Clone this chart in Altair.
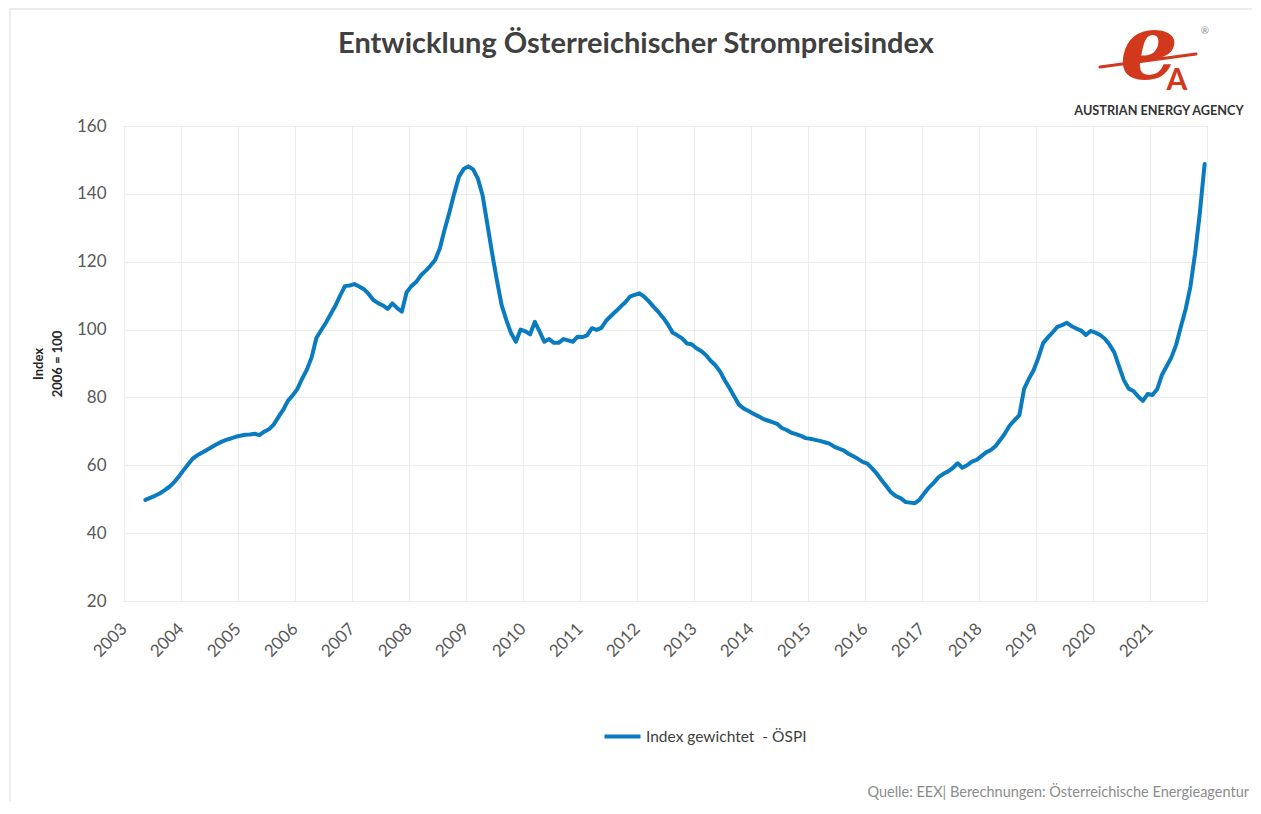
import altair as alt
import pandas as pd

# ---- data (monthly index values, 2006 = 100), from May 2003 to Dec 2021 ----
start_year = 2003
start_month = 5
v2003 = [49.8, 50.4, 51.0, 51.7, 52.6, 53.6, 54.9, 56.6]
v2004 = [58.5, 60.3, 62.0, 63.0, 63.8, 64.6, 65.4, 66.2, 66.9, 67.5, 67.9, 68.4]
v2005 = [68.7, 69.0, 69.1, 69.3, 68.9, 69.9, 70.6, 72.0, 74.2, 76.3, 79.0, 80.6]
v2006 = [82.5, 85.5, 88.2, 91.8, 97.5, 99.8, 102.0, 104.5, 107.0, 110.0, 112.8, 113.0]
v2007 = [113.4, 112.7, 111.9, 110.5, 108.7, 107.8, 107.1, 106.1, 107.7, 106.3, 105.3, 111.0]
v2008 = [112.8, 114.0, 116.0, 117.3, 118.8, 120.5, 124.0, 129.5, 134.5, 140.0, 145.0, 147.3]
v2009 = [148.1, 147.2, 144.5, 139.5, 131.0, 122.5, 114.6, 107.2, 102.8, 98.9, 96.4, 100.0]
v2010 = [99.5, 98.6, 102.3, 99.4, 96.4, 97.2, 96.1, 96.1, 97.2, 96.8, 96.4, 97.9]
v2011 = [97.8, 98.3, 100.4, 99.9, 100.5, 102.6, 104.0, 105.3, 106.7, 108.0, 109.7, 110.2]
v2012 = [110.7, 109.7, 108.3, 106.7, 105.2, 103.5, 101.5, 99.1, 98.3, 97.4, 95.9, 95.7]
v2013 = [94.5, 93.7, 92.5, 90.8, 89.5, 87.6, 85.0, 82.7, 80.2, 77.8, 76.7, 76.0]
v2014 = [75.2, 74.5, 73.7, 73.2, 72.7, 72.2, 71.0, 70.4, 69.6, 69.2, 68.7, 68.0]
v2015 = [67.8, 67.5, 67.2, 66.8, 66.4, 65.5, 64.9, 64.4, 63.4, 62.7, 61.9, 61.0]
v2016 = [60.5, 59.1, 57.5, 55.6, 53.8, 52.0, 50.9, 50.3, 49.2, 49.0, 48.8, 49.9]
v2017 = [51.8, 53.5, 54.9, 56.5, 57.5, 58.2, 59.2, 60.6, 59.3, 60.0, 61.1, 61.6]
v2018 = [62.7, 63.8, 64.5, 65.7, 67.5, 69.5, 71.8, 73.3, 74.8, 82.5, 85.5, 88.0]
v2019 = [91.7, 96.0, 97.7, 99.2, 100.8, 101.3, 102.0, 101.0, 100.3, 99.7, 98.4, 99.6]
v2020 = [99.1, 98.4, 97.3, 95.5, 93.2, 89.1, 85.1, 82.6, 81.9, 80.3, 79.0, 81.0]
v2021 = [80.7, 82.4, 86.6, 89.2, 91.8, 95.5, 100.8, 106.0, 112.6, 122.5, 134.5, 148.8]

series_name = "Index gewichtet\u00a0\u00a0- ÖSPI"
y_ticks = [20, 40, 60, 80, 100, 120, 140, 160]
x_years = list(range(2003, 2023))

title_text = "Entwicklung Österreichischer Strompreisindex"
source_text = "Quelle: EEX| Berechnungen: Österreichische Energieagentur"
agency_text = "AUSTRIAN ENERGY AGENCY"

values = (v2003 + v2004 + v2005 + v2006 + v2007 + v2008 + v2009 + v2010 + v2011 +
          v2012 + v2013 + v2014 + v2015 + v2016 + v2017 + v2018 + v2019 + v2020 + v2021)

rows = []
for i, v in enumerate(values):
    mi = (start_month - 1) + i
    year = start_year + mi // 12
    month = mi % 12 + 1
    rows.append({"Monat": f"{year}-{month:02d}",
                 "t": year + (month - 0.5) / 12.0,
                 "Index": v,
                 "Serie": series_name})
df = pd.DataFrame(rows)

FONT = "Lato"
W, H = 1083, 475

line = alt.Chart(df).mark_line(strokeWidth=4, strokeJoin="round", strokeCap="round").encode(
    x=alt.X("t:Q",
            scale=alt.Scale(domain=[2003, 2022], nice=False, zero=False),
            axis=alt.Axis(values=x_years, format="d",
                          labelExpr="datum.value >= 2022 ? '' : datum.label",
                          labelAngle=-45, labelAlign="right", labelBaseline="middle",
                          labelPadding=25, ticks=False, domain=False,
                          grid=True, gridColor="#ececec", gridWidth=1,
                          labelFont=FONT, labelFontSize=17, labelColor="#595959",
                          title=None)),
    y=alt.Y("Index:Q",
            scale=alt.Scale(domain=[20, 160], nice=False, zero=False),
            axis=alt.Axis(values=y_ticks, ticks=False, domain=False,
                          grid=True, gridColor="#ececec", gridWidth=1,
                          labelFont=FONT, labelFontSize=17, labelColor="#595959",
                          labelPadding=18,
                          title=["Index", "2006 = 100"],
                          titleFont=FONT, titleFontSize=13, titleFontWeight="bold",
                          titleColor="#262626", titleAngle=-90, titleAlign="center",
                          titleBaseline="top", titleX=-92, titleY=H / 2,
                          titleLineHeight=19)),
    color=alt.Color("Serie:N", scale=alt.Scale(range=["#0a7bbf"]),
                    legend=alt.Legend(orient="none", legendX=478, legendY=590,
                                      title=None, symbolType="stroke",
                                      symbolStrokeWidth=4, symbolSize=1300,
                                      labelOffset=3, padding=0, labelLimit=400,
                                      labelFont=FONT, labelFontSize=15.5,
                                      labelColor="#404040")),
    tooltip=["Monat:N", "Index:Q"],
)

one = pd.DataFrame({"k": [0]})

title = alt.Chart(one).mark_text(text=title_text, font=FONT, fontSize=29, fontWeight="bold",
                                 color="#404040", align="center", baseline="alphabetic").encode(
    x=alt.value(512), y=alt.value(-73))

logo_e = alt.Chart(one).mark_text(text="e", font="DejaVu Serif", fontSize=92, fontStyle="italic",
                                  fontWeight="bold", color="#d2381c", align="center",
                                  baseline="alphabetic").encode(
    x=alt.value(1025), y=alt.value(-47))
logo_swoosh = alt.Chart(one).mark_rule(color="#d2381c", strokeWidth=3, strokeCap="round").encode(
    x=alt.value(976), y=alt.value(-59), x2=alt.value(1072), y2=alt.value(-72))
logo_a = alt.Chart(one).mark_text(text="A", font=FONT, fontSize=30, fontWeight="bold",
                                  color="#d2381c", align="center", baseline="alphabetic").encode(
    x=alt.value(1053), y=alt.value(-36))
logo_r = alt.Chart(one).mark_text(text="®", font=FONT, fontSize=10, color="#8c8c8c",
                                  align="center", baseline="middle").encode(
    x=alt.value(1081), y=alt.value(-95))
agency = alt.Chart(one).mark_text(text=agency_text, font=FONT, fontSize=12.7, fontWeight="bold",
                                  color="#333333", align="center", baseline="alphabetic").encode(
    x=alt.value(1035), y=alt.value(-11))

source = alt.Chart(one).mark_text(text=source_text, font=FONT, fontSize=14.5, color="#8c8c8c",
                                  align="right", baseline="alphabetic").encode(
    x=alt.value(1125), y=alt.value(671))

frame_top = alt.Chart(one).mark_rule(color="#d9d9d9", strokeWidth=1).encode(
    x=alt.value(-114), x2=alt.value(1140), y=alt.value(-117))
frame_left = alt.Chart(one).mark_rule(color="#d9d9d9", strokeWidth=1).encode(
    x=alt.value(-114), y=alt.value(-117), y2=alt.value(700))

chart = alt.layer(
    frame_top, frame_left, line, title, logo_swoosh, logo_e, logo_a, logo_r, agency, source
).properties(
    width=W, height=H,
    padding={"left": 116, "top": 118, "right": 45, "bottom": 200},
    autosize=alt.AutoSizeParams(type="none"),
    background="white",
).configure_view(stroke="#d9d9d9", strokeWidth=1)

chart.save("out.html", embed_options={"renderer": "svg", "actions": False})
